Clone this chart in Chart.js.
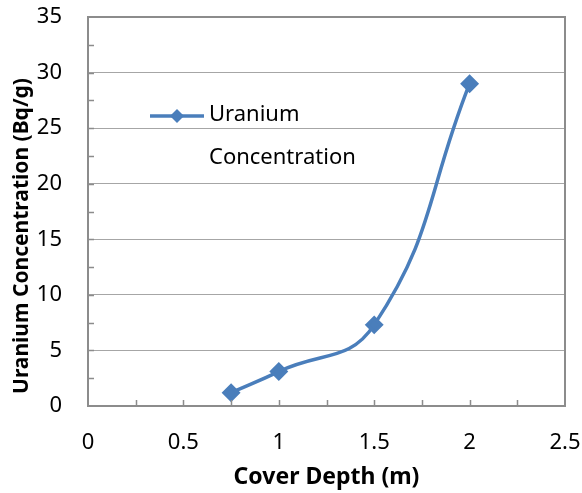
<!DOCTYPE html>
<html>
<head>
<meta charset="utf-8">
<script src="https://cdn.jsdelivr.net/npm/chart.js@4"></script>
<style>
  html, body { margin: 0; padding: 0; background: #fff; }
  #wrap { width: 582px; height: 493px; }
</style>
</head>
<body>
<div id="wrap"><canvas id="myChart" width="582" height="493"></canvas></div>
<script>
// data
const depths = [0.75, 1, 1.5, 2];
const uranium = [1.2, 3.1, 7.3, 29];
const seriesName = 'Uranium Concentration';
const xTitle = 'Cover Depth (m)';
const yTitle = 'Uranium Concentration (Bq/g)';

const blue = '#4a7ebb';
const axisGrey = '#8c8c8c';
const FONT = '"Noto Sans", sans-serif';

// inside tick marks, frame, y title (sits lower than centre, like Excel) and the legend box
const extras = {
  id: 'extras',
  afterDraw(chart) {
    const ctx = chart.ctx;
    const x = chart.scales.x, y = chart.scales.y;
    const a = chart.chartArea;
    ctx.save();
    ctx.strokeStyle = axisGrey;
    ctx.lineWidth = 1.5;
    // minor ticks every 0.25 on x, every 2.5 on y, pointing inwards
    ctx.beginPath();
    for (let v = 0.25; v < 2.5; v += 0.25) {
      const px = Math.round(x.getPixelForValue(v)) + 0.5;
      ctx.moveTo(px, a.bottom);
      ctx.lineTo(px, a.bottom - 6);
    }
    for (let v = 2.5; v < 35; v += 2.5) {
      const py = Math.round(y.getPixelForValue(v)) + 0.5;
      ctx.moveTo(a.left, py);
      ctx.lineTo(a.left + 6, py);
    }
    ctx.stroke();
    // top and right of the frame
    ctx.lineWidth = 2;
    ctx.beginPath();
    ctx.moveTo(a.left, a.top);
    ctx.lineTo(a.right, a.top);
    ctx.lineTo(a.right, a.bottom);
    ctx.stroke();

    // y axis title
    ctx.save();
    ctx.translate(22, 236);
    ctx.rotate(-Math.PI / 2);
    ctx.fillStyle = '#000';
    ctx.font = 'bold 21px ' + FONT;
    ctx.textAlign = 'center';
    ctx.textBaseline = 'middle';
    ctx.fillText(yTitle, 0, 0);
    ctx.restore();

    // legend
    const ly = 116;
    ctx.strokeStyle = blue;
    ctx.fillStyle = blue;
    ctx.lineWidth = 3.5;
    ctx.beginPath();
    ctx.moveTo(150, ly);
    ctx.lineTo(204, ly);
    ctx.stroke();
    ctx.beginPath();
    ctx.moveTo(177, ly - 7);
    ctx.lineTo(184, ly);
    ctx.lineTo(177, ly + 7);
    ctx.lineTo(170, ly);
    ctx.closePath();
    ctx.fill();
    ctx.fillStyle = '#000';
    ctx.font = '22px ' + FONT;
    ctx.textBaseline = 'middle';
    ctx.textAlign = 'left';
    const words = chart.data.datasets[0].label.split(' ');
    ctx.fillText(words[0], 209, ly - 1);
    ctx.fillText(words.slice(1).join(' '), 209, ly + 42);
    ctx.restore();
  }
};

new Chart(document.getElementById('myChart'), {
  type: 'scatter',
  data: {
    datasets: [{
      label: seriesName,
      data: depths.map((d, i) => ({ x: d, y: uranium[i] })),
      showLine: true,
      tension: 0.45,
      borderColor: blue,
      backgroundColor: blue,
      borderWidth: 3.5,
      pointStyle: 'rectRot',
      pointRadius: 7,
      pointHoverRadius: 7
    }]
  },
  options: {
    responsive: false,
    animation: false,
    events: [],
    layout: { padding: { top: 17, right: 17, left: 0, bottom: 0 } },
    plugins: {
      legend: { display: false },
      tooltip: { enabled: false }
    },
    scales: {
      x: {
        type: 'linear',
        min: 0, max: 2.5,
        afterFit: s => { s.height = 87; s.paddingLeft = 0; s.paddingRight = 0; },
        border: { color: axisGrey, width: 2 },
        grid: { display: false, drawTicks: false },
        ticks: {
          stepSize: 0.5, padding: 24, color: '#000',
          font: { family: FONT, size: 22 },
          callback: v => String(Number(v))
        },
        title: {
          display: true, text: xTitle, color: '#000',
          font: { family: FONT, size: 23, weight: 'bold' },
          padding: { top: 0, bottom: 2 }
        }
      },
      y: {
        min: 0, max: 35,
        afterFit: s => { s.width = 88; s.paddingTop = 0; s.paddingBottom = 0; },
        border: { color: axisGrey, width: 2 },
        grid: {
          drawTicks: false,
          color: c => (c.tick.value === 0 || c.tick.value === 35) ? 'rgba(0,0,0,0)' : '#a6a6a6',
          lineWidth: 1,
          borderDash: [1, 2]
        },
        ticks: {
          stepSize: 5, padding: 26, color: '#000',
          font: { family: FONT, size: 22 }
        }
      }
    }
  },
  plugins: [extras]
});
</script>
</body>
</html>
